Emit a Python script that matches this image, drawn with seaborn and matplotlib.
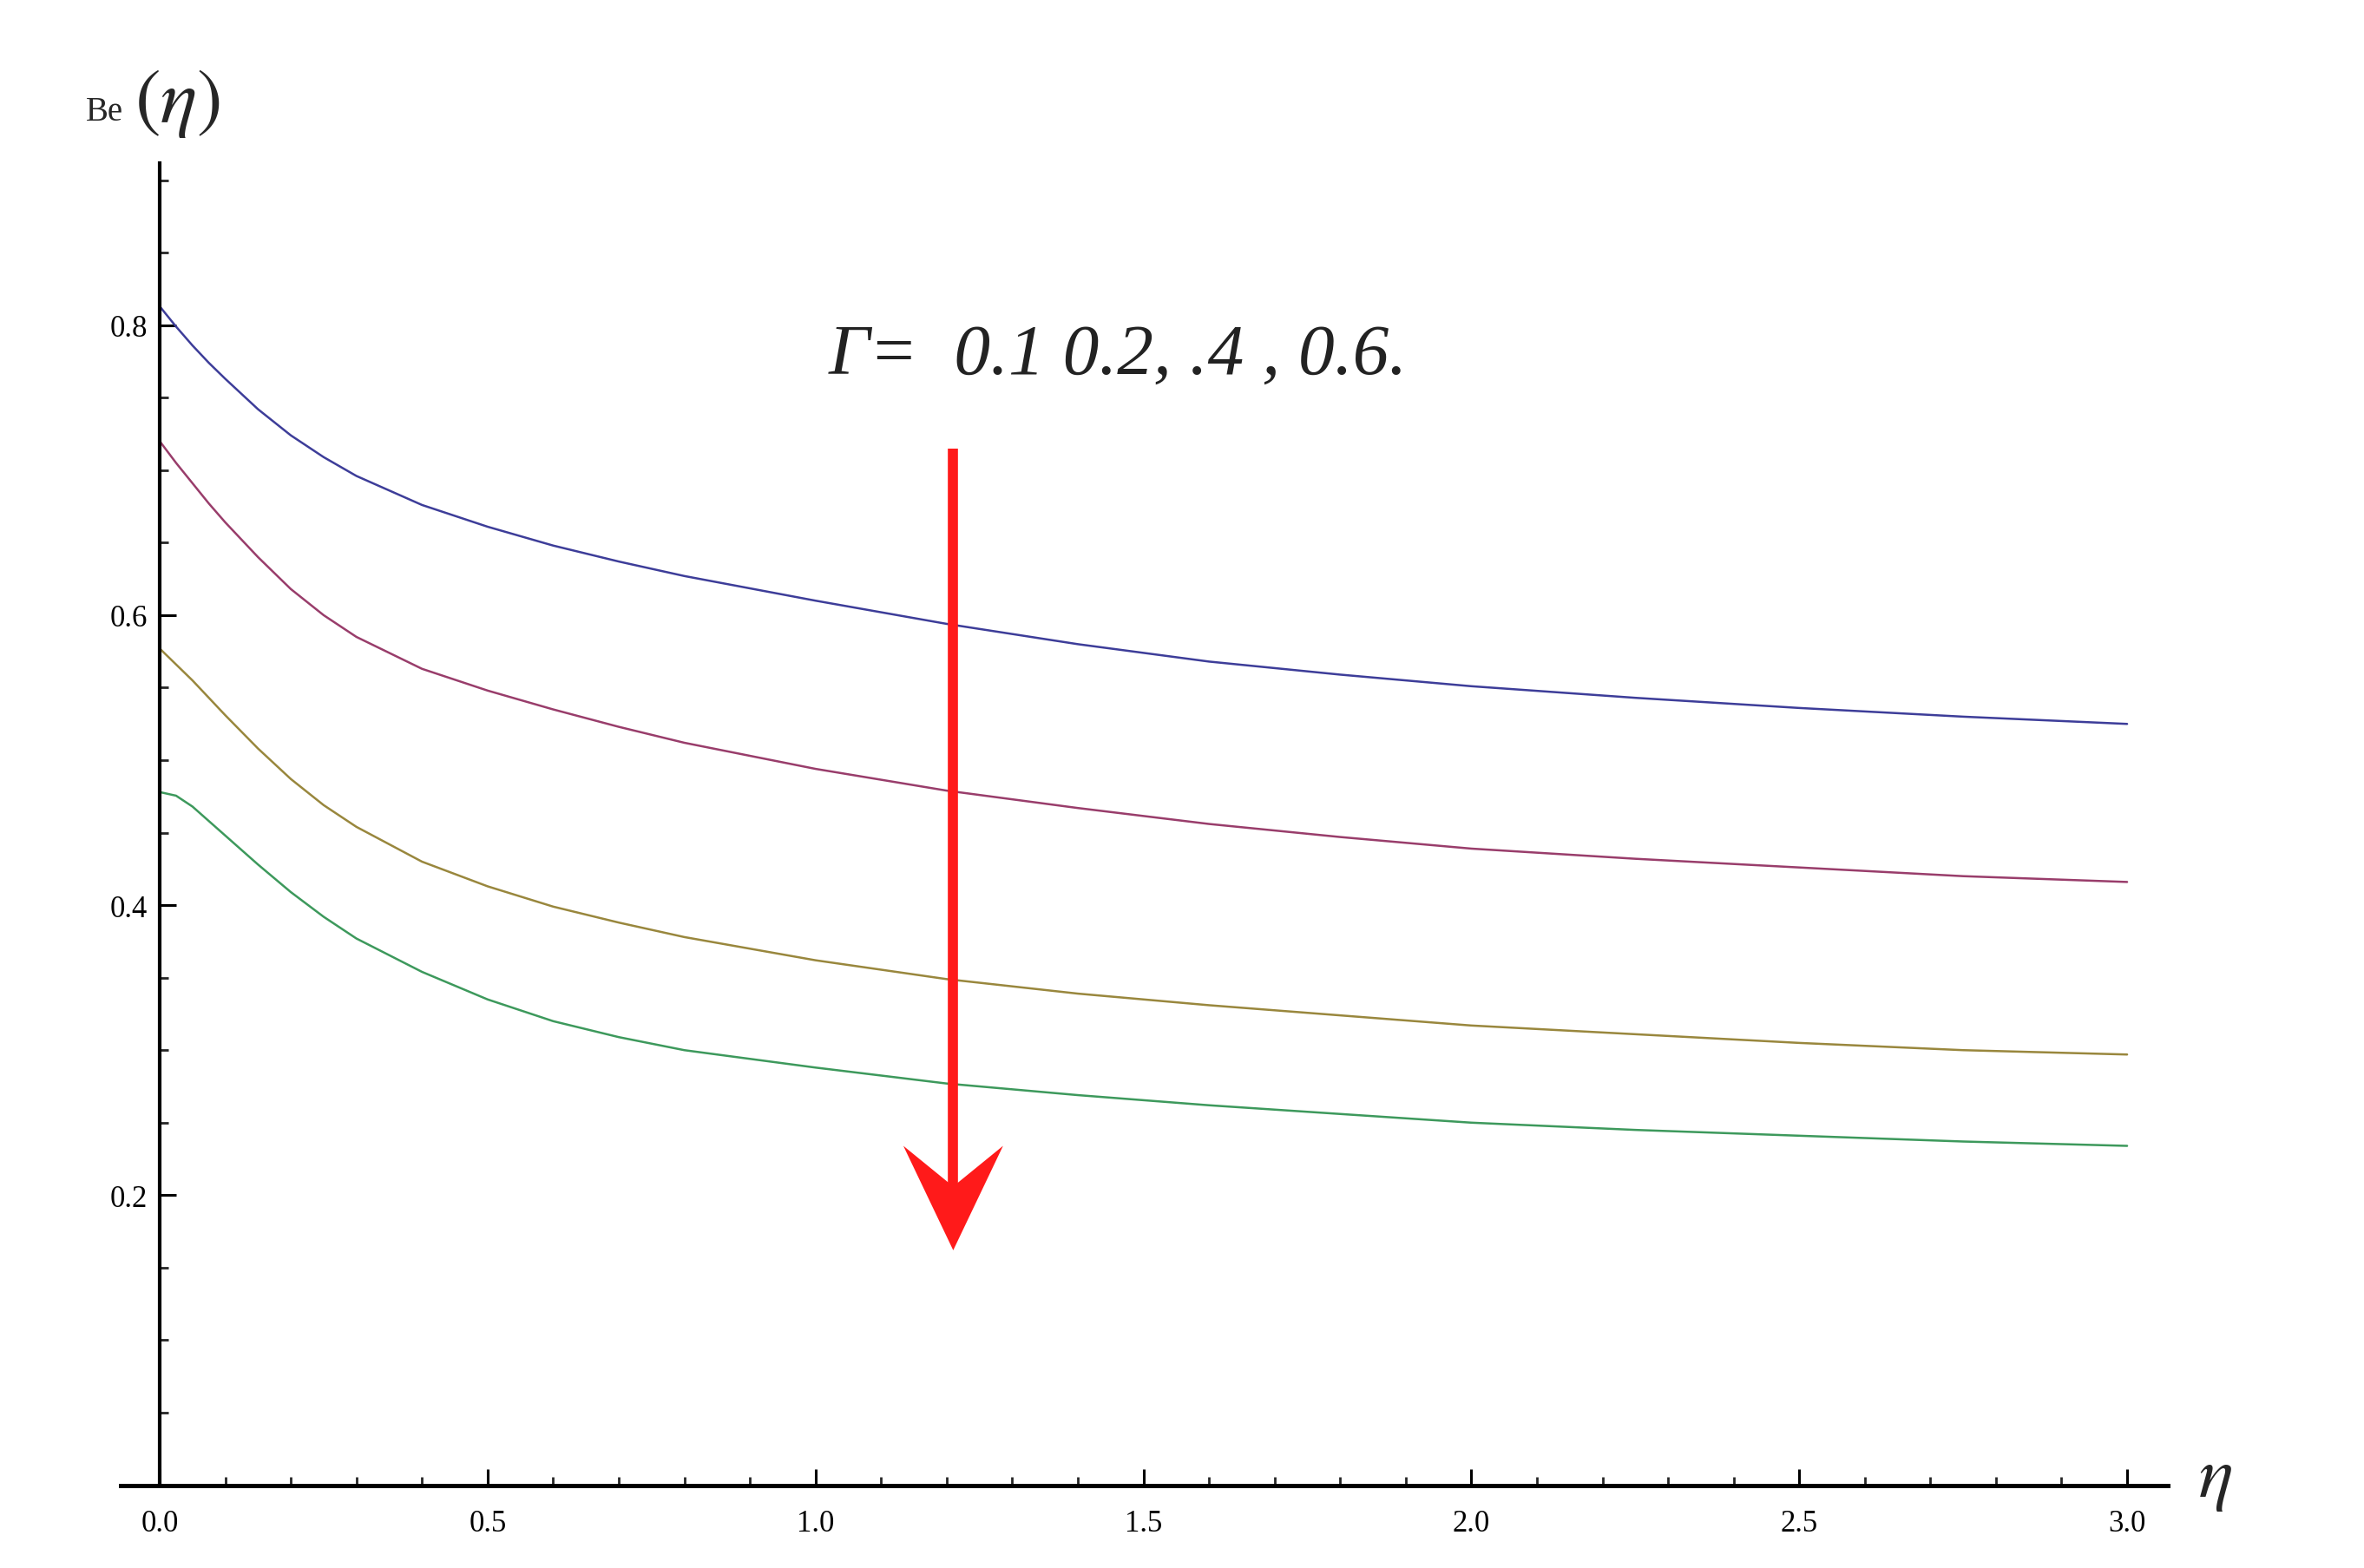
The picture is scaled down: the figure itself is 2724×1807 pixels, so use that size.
import matplotlib
matplotlib.use("Agg")
import matplotlib.pyplot as plt
from matplotlib.patches import Polygon
import numpy as np
import pandas as pd
import seaborn as sns

# values
eta = [0.0, 0.025, 0.05, 0.075, 0.1, 0.15, 0.2, 0.25, 0.3, 0.4, 0.5, 0.6, 0.7, 0.8,
       1.0, 1.2, 1.4, 1.6, 1.8, 2.0, 2.25, 2.5, 2.75, 3.0]
be_g01 = [0.813, 0.799, 0.786, 0.774, 0.763, 0.742, 0.724, 0.709, 0.696, 0.676, 0.661, 0.648, 0.637, 0.627,
          0.610, 0.594, 0.580, 0.568, 0.559, 0.551, 0.543, 0.536, 0.530, 0.525]
be_g02 = [0.720, 0.705, 0.691, 0.677, 0.664, 0.640, 0.618, 0.600, 0.585, 0.563, 0.548, 0.535, 0.523, 0.512,
          0.494, 0.479, 0.467, 0.456, 0.447, 0.439, 0.432, 0.426, 0.420, 0.416]
be_g04 = [0.577, 0.566, 0.555, 0.543, 0.531, 0.508, 0.487, 0.469, 0.454, 0.430, 0.413, 0.399, 0.388, 0.378,
          0.362, 0.349, 0.339, 0.331, 0.324, 0.317, 0.311, 0.305, 0.300, 0.297]
be_g06 = [0.478, 0.4755, 0.468, 0.458, 0.448, 0.428, 0.409, 0.392, 0.377, 0.354, 0.335, 0.320, 0.309, 0.300,
          0.288, 0.277, 0.269, 0.262, 0.256, 0.250, 0.245, 0.241, 0.237, 0.234]
gammas = ["0.1", "0.2", "0.4", "0.6"]
colors = ["#3d3d99", "#993d6b", "#99873d", "#3d995c"]

x_ticks = [0.0, 0.5, 1.0, 1.5, 2.0, 2.5, 3.0]
y_ticks = [0.2, 0.4, 0.6, 0.8]

# arrow annotation
arrow_x = 1.21
arrow_top = 0.715
arrow_tip = 0.162

df = pd.DataFrame({
    "eta": eta * 4,
    "Be": be_g01 + be_g02 + be_g04 + be_g06,
    "Gamma": [g for g in gammas for _ in eta],
})

sns.set_style("white")
plt.rcParams["mathtext.fontset"] = "stix"
plt.rcParams["font.family"] = ["Liberation Serif", "DejaVu Serif"]

fig = plt.figure(figsize=(13.62, 9.04), dpi=200)
ax = fig.add_axes([0.0509, 0.0528, 0.8661, 0.8429])

sns.lineplot(data=df, x="eta", y="Be", hue="Gamma", palette=colors,
             linewidth=0.9, legend=False, ax=ax)

ax.set_xlim(-0.06, 3.062)
ax.set_ylim(0, 0.912)
ax.set_xlabel("")
ax.set_ylabel("")

for s in ["top", "right"]:
    ax.spines[s].set_visible(False)
ax.spines["left"].set_position(("data", 0))
ax.spines["bottom"].set_position(("data", 0))
ax.spines["left"].set_linewidth(1.5)
ax.spines["bottom"].set_linewidth(1.8)
for s in ["left", "bottom"]:
    ax.spines[s].set_color("black")

ax.set_xticks(x_ticks)
ax.set_xticklabels([f"{v:.1f}" for v in x_ticks])
ax.set_xticks(np.arange(0.1, 3.01, 0.1), minor=True)
ax.set_yticks(y_ticks)
ax.set_yticklabels([f"{v:.1f}" for v in y_ticks])
ax.set_yticks(np.arange(0.05, 0.91, 0.05), minor=True)
ax.tick_params(which="both", bottom=True, left=True, top=False, right=False)
ax.tick_params(which="major", direction="in", length=7, width=1.1, labelsize=12.5,
               colors="black")
ax.tick_params(which="minor", direction="in", length=3.6, width=1.0)
ax.tick_params(axis="x", which="major", pad=10)
ax.tick_params(axis="y", which="major", pad=5)

# red arrow
ax.plot([arrow_x, arrow_x], [arrow_top, arrow_tip + 0.04], color="#ff1a1a",
        linewidth=4.2, solid_capstyle="butt")
head = Polygon([(arrow_x - 0.076, 0.234), (arrow_x, 0.206),
                (arrow_x + 0.076, 0.234), (arrow_x, arrow_tip)],
               closed=True, color="#ff1a1a", lw=0)
ax.add_patch(head)

ax.text(1.02, 0.767, "Γ=  0.1 0.2, .4 , 0.6.", fontsize=30, style="italic",
        color="#222222", va="baseline")

fig.text(0.0362, 0.923, "Be", fontsize=14, va="baseline")
fig.text(0.0570, 0.934, r"$(\eta)$", fontsize=32, va="center")
fig.text(0.9300, 0.0564, r"$\eta$", fontsize=30, va="center")

fig.savefig("out.png", dpi=200)
